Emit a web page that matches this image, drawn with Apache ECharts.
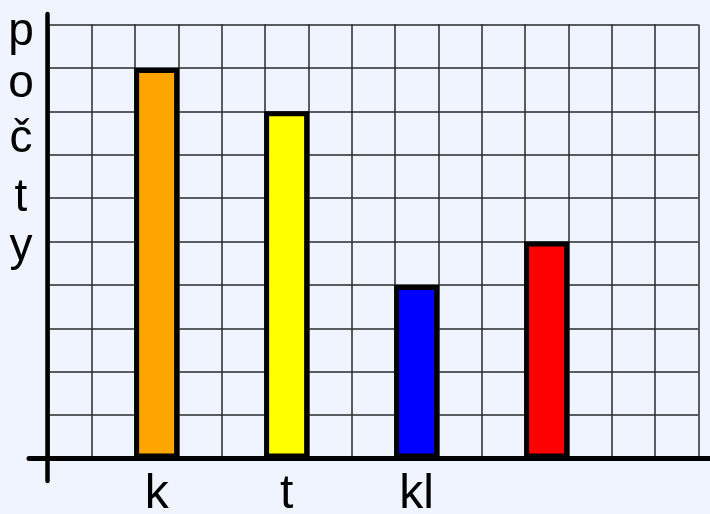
<!DOCTYPE html>
<html>
<head>
<meta charset="utf-8">
<script src="https://cdn.jsdelivr.net/npm/echarts@6/dist/echarts.min.js"></script>
<style>
html,body{margin:0;padding:0;background:#eff4fe;}
#main{width:710px;height:514px;}
</style>
</head>
<body>
<div id="main"></div>
<script>
// Data
var categories = ['', '', 'k', '', '', 't', '', '', 'kl', '', '', '', '', '', ''];
var values = [null, null, 9, null, null, 8, null, null, 4, null, null, 5, null, null, null];
var barColors = [null, null, '#ffa500', null, null, '#ffff00', null, null, '#0000ff', null, null, '#ff0000', null, null, null];
var yTitleLetters = ['p', 'o', 'č', 't', 'y'];
var yMax = 10;

var chart = echarts.init(document.getElementById('main'));

var letterY = [32, 84, 139, 198, 247];
var graphics = yTitleLetters.map(function (ch, i) {
  return {
    type: 'text', x: 21, y: letterY[i], z: 10,
    style: { text: ch, fill: '#000', font: '46px "Liberation Sans", Arial, sans-serif', textAlign: 'center', textVerticalAlign: 'middle' }
  };
});
graphics.push({
  type: 'line', z: 20,
  shape: { x1: 29, y1: 458.5, x2: 712, y2: 458.5 },
  style: { stroke: '#000', lineWidth: 5, lineCap: 'round' }
});
graphics.push({
  type: 'line', z: 20,
  shape: { x1: 47.5, y1: 14, x2: 47.5, y2: 481 },
  style: { stroke: '#000', lineWidth: 4.5, lineCap: 'round' }
});

chart.setOption({
  backgroundColor: '#eff4fe',
  animation: false,
  grid: { left: 48.3, top: 24.5, width: 650, height: 434, containLabel: false, outerBoundsMode: 'none' },
  xAxis: {
    type: 'category',
    data: categories,
    boundaryGap: true,
    axisLine: { show: false },
    axisTick: { show: false },
    axisLabel: {
      interval: 0, margin: 12, color: '#000',
      fontFamily: '"Liberation Sans", Arial, sans-serif', fontSize: 48, lineHeight: 48
    },
    splitLine: { show: true, interval: 0, lineStyle: { color: '#2a2a2a', width: 1.5 } }
  },
  yAxis: {
    type: 'value', min: 0, max: yMax, interval: 1,
    axisLine: { show: false }, axisTick: { show: false }, axisLabel: { show: false },
    splitLine: { show: true, lineStyle: { color: '#2a2a2a', width: 1.5 } }
  },
  series: [{
    type: 'bar',
    barWidth: 45,
    data: values.map(function (v, i) {
      return v == null ? null : { value: v, itemStyle: { color: barColors[i] } };
    }),
    itemStyle: { borderColor: '#000', borderWidth: 5 },
    z: 5
  }],
  graphic: graphics
});
</script>
</body>
</html>
